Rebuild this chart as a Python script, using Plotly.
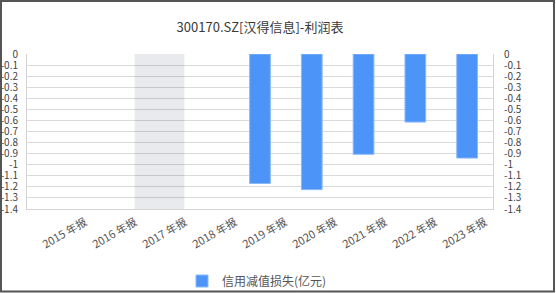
import plotly.graph_objects as go

categories = ["2015 年报", "2016 年报", "2017 年报", "2018 年报", "2019 年报",
              "2020 年报", "2021 年报", "2022 年报", "2023 年报"]
values = [None, None, None, None, -1.17, -1.225, -0.906, -0.615, -0.94]
series_name = "信用减值损失(亿元)"
title_text = "300170.SZ[汉得信息]-利润表"
tick_vals = [0, -0.1, -0.2, -0.3, -0.4, -0.5, -0.6, -0.7, -0.8, -0.9, -1, -1.1, -1.2, -1.3, -1.4]
tick_text = ["0", "-0.1", "-0.2", "-0.3", "-0.4", "-0.5", "-0.6", "-0.7", "-0.8", "-0.9",
             "-1", "-1.1", "-1.2", "-1.3", "-1.4"]
shaded_category = "2017 年报"

W, H = 556, 293
L, R, T, B = 27, 63, 54, 84
pw, ph = W - L - R, H - T - B
n = len(categories)
idx_list = list(range(n))

font_family = "Noto Sans CJK SC, Noto Sans, sans-serif"
fig = go.Figure()
fig.add_trace(go.Bar(
    x=categories, y=values, name=series_name,
    marker=dict(color="#4d94f8", line=dict(color="#8ab9fa", width=1)),
    width=0.4,
))
# invisible companions so the mirrored axes are drawn
fig.add_trace(go.Bar(
    x=categories, y=values, yaxis="y2", showlegend=False, opacity=0,
    width=0.4, hoverinfo="skip",
))
fig.add_trace(go.Scatter(
    x=idx_list, y=[None] * n, xaxis="x2", showlegend=False, hoverinfo="skip", mode="markers",
))

idx = categories.index(shaded_category)
fig.add_shape(type="rect", xref="x", yref="y", x0=idx - 0.42, x1=idx + 0.54, y0=0, y1=-1.4,
              fillcolor="#e9eaee", line=dict(width=0), layer="below")
# outer frame
fig.add_shape(type="rect", xref="paper", yref="paper",
              x0=(1 - L) / pw, x1=(554 - L) / pw,
              y0=(H - B - (H - 1.5)) / ph, y1=(H - B - 1) / ph,
              line=dict(color="#555555", width=2), fillcolor="rgba(0,0,0,0)")

axis_common = dict(range=[-1.4, 0], tickvals=tick_vals, ticktext=tick_text,
                   showgrid=True, gridcolor="rgba(0,0,0,0.075)", gridwidth=1,
                   showline=True, linecolor="#d4d4d4", linewidth=1, automargin=False,
                   zeroline=False, ticks="", tickfont=dict(size=10, color="#444"))
# label axis: labels end at category boundaries (about 85 px, 50 px apart)
lab_first, lab_step = 85, 50
x2_lo = -(lab_first - L) / lab_step
x2_hi = x2_lo + pw / lab_step
fig.update_layout(
    width=W, height=H,
    margin=dict(l=L, r=R, t=T, b=B, autoexpand=False),
    paper_bgcolor="white", plot_bgcolor="white",
    font=dict(family=font_family, color="#444"),
    title=dict(text=title_text, x=(L + pw / 2) / W, xanchor="center", y=1 - 27 / H, yanchor="middle",
               font=dict(size=13, color="#3a3a3a")),
    xaxis=dict(type="category", showline=True, linecolor="#d4d4d4", linewidth=1,
               showgrid=False, ticks="", showticklabels=False, automargin=False),
    xaxis2=dict(overlaying="x", side="bottom", range=[x2_lo, x2_hi], tickvals=idx_list,
                ticktext=categories, tickangle=-30, showgrid=False, zeroline=False,
                showline=False, ticks="", automargin=False, ticklabelstandoff=4,
                tickfont=dict(size=11, color="#555")),
    yaxis=dict(**axis_common, side="left", ticklabelstandoff=6),
    yaxis2=dict(**axis_common, side="right", overlaying="y", ticklabelstandoff=8),
    showlegend=True,
    legend=dict(orientation="h", x=(L + pw / 2 - 3) / W, xanchor="center", xref="container",
                yref="container", y=1 - 281 / H, yanchor="middle", bgcolor="rgba(0,0,0,0)",
                font=dict(size=12, color="#555")),
)
fig.write_html("out.html")
